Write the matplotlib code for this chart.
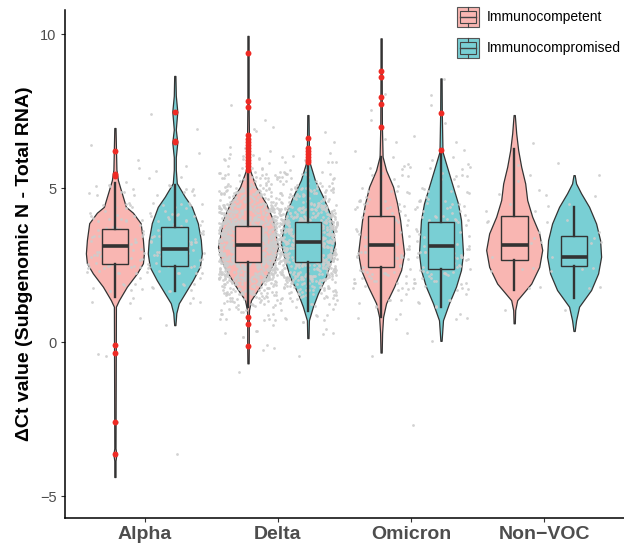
import numpy as np
import matplotlib.pyplot as plt
from matplotlib.patches import Rectangle

plt.rcParams['font.family'] = ['Liberation Sans', 'DejaVu Sans']

variants = ['Alpha', 'Delta', 'Omicron', 'Non\u2212VOC']
status = ['Immunocompetent', 'Immunocompromised']
fills = ['#F9B6B2', '#79CFD4']

# violin outlines, order: Alpha IC, Alpha ICp, Delta IC, Delta ICp, ...
# y values and half widths (px, 133 px per category)
violin_y = [
    [-4.38, -3.85, -3.64, -3.45, 1.15, 1.36, 1.8, 2.23, 2.56, 2.88, 3.31, 3.86, 4.2, 4.39, 4.93, 5.26, 5.6, 6.95],
    [0.55, 0.94, 1.26, 1.58, 2.01, 2.44, 2.88, 3.31, 3.86, 4.39, 4.72, 5.16, 5.6, 6.0, 6.48, 6.9, 7.48, 8.0, 8.64],
    [-0.69, -0.13, 0.58, 0.8, 1.04, 1.36, 1.8, 2.23, 2.66, 3.09, 3.42, 3.96, 4.5, 5.04, 5.58, 6.5, 7.7, 9.37, 9.94],
    [0.13, 0.71, 1.15, 1.58, 2.12, 2.66, 3.2, 3.64, 4.18, 4.72, 5.26, 5.8, 6.3, 7.37],
    [-0.34, 0.3, 0.82, 1.26, 1.8, 2.34, 2.88, 3.42, 3.96, 4.5, 5.04, 5.58, 6.02, 7.0, 8.7, 9.86],
    [0.04, 0.71, 1.26, 1.8, 2.34, 2.88, 3.42, 3.96, 4.5, 5.04, 5.58, 6.18, 7.45, 8.56],
    [0.61, 1.04, 1.36, 1.9, 2.44, 2.99, 3.53, 4.07, 4.61, 5.15, 5.69, 6.23, 6.78, 7.37],
    [0.36, 0.71, 1.15, 1.69, 2.23, 2.77, 3.31, 3.85, 4.39, 4.83, 5.15, 5.42],
]
violin_w = [
    [0, 0.3, 1.5, 0.3, 1, 4, 12, 22, 28, 29, 28, 25.7, 18, 11, 6, 3, 1.5, 0],
    [0, 1.5, 4, 10, 18, 25, 27, 26, 23, 17, 10, 2, 1, 1, 2.5, 1, 2.5, 1, 0],
    [0, 0.8, 0.8, 0.8, 1, 3, 12, 20, 27, 30, 28, 25, 18, 8, 2, 1, 0.6, 0.5, 0],
    [0, 1, 5, 10, 18, 23, 27, 25, 22, 15, 7, 2, 1, 0],
    [0, 1, 2, 5, 13, 20, 23, 21, 19, 16, 12, 5, 1.5, 0.8, 0.6, 0],
    [0, 2, 8, 15, 20, 22, 21, 20, 17, 12, 7, 1.5, 0.8, 0],
    [0, 1, 3, 17, 25, 28, 25, 18, 13, 11, 7, 4, 2, 0],
    [0, 2, 5, 17, 24, 27, 26, 22, 15, 7, 2, 0],
]

# boxplot stats
q1 = [2.53, 2.47, 2.59, 2.60, 2.45, 2.38, 2.65, 2.48]
med = [3.12, 3.02, 3.14, 3.26, 3.14, 3.12, 3.14, 2.77]
q3 = [3.66, 3.72, 3.77, 3.89, 4.09, 3.89, 4.10, 3.44]
whisk_lo = [1.47, 1.67, 1.13, 1.0, 0.82, 1.15, 1.69, 1.42]
whisk_hi = [5.17, 5.10, 5.53, 5.80, 6.02, 6.18, 6.26, 4.37]
outliers = [
    [6.19, 5.45, 5.39, -0.1, -0.35, -2.6, -3.64],
    [7.48, 6.48, 6.52],
    [9.37, 7.82, 7.64, 6.72, 6.6, 6.5, 6.4, 6.3, 6.2, 6.1, 6.0, 5.9, 5.8, 5.7, 5.6, 0.8, 0.58, -0.13],
    [6.61, 6.3, 6.2, 6.1, 6.0, 5.9, 5.84],
    [8.81, 8.59, 7.97, 7.74, 6.97],
    [7.45, 6.23],
    [],
    [],
]

# jittered raw points: counts per 0.5 bin from -1 to 9
bin_edges = np.arange(-1.0, 9.01, 0.5)
grey_counts = [
    [0, 1, 0, 1, 3, 8, 14, 22, 24, 20, 12, 7, 4, 2, 1, 0, 0, 0, 0, 0],
    [0, 0, 0, 1, 3, 8, 14, 20, 22, 20, 14, 8, 4, 2, 1, 1, 1, 0, 0, 0],
    [1, 3, 5, 12, 30, 80, 150, 210, 230, 190, 120, 70, 35, 15, 6, 3, 1, 1, 0, 0],
    [0, 1, 3, 8, 20, 50, 95, 140, 150, 130, 90, 50, 25, 10, 4, 1, 0, 0, 0, 0],
    [0, 1, 1, 3, 6, 12, 18, 22, 22, 20, 16, 12, 8, 5, 3, 1, 1, 1, 1, 0],
    [0, 0, 1, 3, 6, 12, 18, 22, 22, 20, 16, 12, 8, 5, 3, 1, 1, 1, 1, 1],
    [0, 0, 0, 0, 1, 2, 3, 4, 4, 3, 3, 2, 2, 1, 1, 0, 0, 0, 0, 0],
    [0, 0, 0, 0, 1, 2, 3, 4, 3, 3, 2, 2, 1, 1, 0, 0, 0, 0, 0, 0],
]
grey_stray = [[-2.6, -0.38], [-3.64], [], [], [], [-2.7], [], []]

fig = plt.figure(figsize=(6.24, 5.46), dpi=100)
ax = fig.add_axes([65 / 624, 28 / 546, 559 / 624, 508 / 546])

dodge = 0.225
px = 1 / 133
jit = 0.22
line_col = '#333333'


def spread(n, a, b):
    # quasi-random jitter fraction for the n-th point
    return (n * n * a + n * b) % 1


for i in range(len(variants)):
    for j in range(2):
        k = 2 * i + j
        xc = i + 1 + (2 * j - 1) * dodge
        y = np.array(violin_y[k])
        w = np.maximum(np.array(violin_w[k]), 0.6) * px
        ax.fill_betweenx(y, xc - w, xc + w, facecolor=fills[j],
                         edgecolor=line_col, lw=0.9, zorder=1)

        # jittered points
        ys, xs = [], []
        n = 0
        for b, c in enumerate(grey_counts[k]):
            for m in range(c):
                n += 1
                ys.append(bin_edges[b] + 0.5 * spread(n, 0.7071067, 0.3819660))
                xs.append(xc + jit * (2 * spread(n, 0.6180339, 0.7320508) - 1))
        for v in grey_stray[k]:
            n += 1
            ys.append(v)
            xs.append(xc + jit * (2 * spread(n, 0.6180339, 0.7320508) - 1))
        ax.scatter(xs, ys, s=4, color='#CDCDCD', alpha=0.9,
                   linewidths=0, zorder=2)

        # box
        bw = 13.3 * px
        ax.add_patch(Rectangle((xc - bw, q1[k]), 2 * bw, q3[k] - q1[k],
                               facecolor=fills[j], edgecolor=line_col,
                               lw=1.0, zorder=3))
        ax.plot([xc - bw, xc + bw], [med[k], med[k]], color=line_col,
                lw=2.6, solid_capstyle='butt', zorder=4)
        ax.plot([xc, xc], [q3[k], whisk_hi[k]], color=line_col, lw=1.7, zorder=3)
        ax.plot([xc, xc], [whisk_lo[k], q1[k]], color=line_col, lw=1.7, zorder=3)
        if outliers[k]:
            ax.scatter([xc] * len(outliers[k]), outliers[k], s=18,
                       color='#EE2A24', linewidths=0, zorder=5)

ax.set_xlim(0.4, 4.6)
ax.set_ylim(-5.71, 10.78)
ax.set_xticks([1, 2, 3, 4])
ax.set_xticklabels(variants, fontsize=14, fontweight='bold')
ax.set_yticks([-5, 0, 5, 10])
ax.tick_params(axis='both', direction='out', length=3, width=0.8,
               color=line_col, labelcolor='#4D4D4D')
ax.tick_params(axis='y', labelsize=10.5, pad=3)
ax.tick_params(axis='x', pad=2.5)
for s in ['top', 'right']:
    ax.spines[s].set_visible(False)
for s in ['left', 'bottom']:
    ax.spines[s].set_linewidth(1.1)
    ax.spines[s].set_color('black')

ax.set_ylabel('\u0394Ct value (Subgenomic N - Total RNA)', fontsize=14,
              fontweight='bold')
ax.yaxis.set_label_coords(-0.058, 0.5)


# legend drawn by hand in pixel coordinates
def fx(x):
    return x / 624


def fy(y):
    return 1 - y / 546


for j, yc in enumerate([17, 48]):
    fig.add_artist(Rectangle((fx(457), fy(yc + 10)), 22 / 624, 20 / 546,
                             transform=fig.transFigure, facecolor=fills[j],
                             edgecolor='#555555', lw=0.8))
    fig.add_artist(Rectangle((fx(460), fy(yc + 6)), 16 / 624, 12 / 546,
                             transform=fig.transFigure, facecolor=fills[j],
                             edgecolor='#444444', lw=0.8))
    fig.add_artist(plt.Line2D([fx(460), fx(476)], [fy(yc), fy(yc)],
                              transform=fig.transFigure, color='#444444', lw=1.0))
    fig.add_artist(plt.Line2D([fx(468), fx(468)], [fy(yc - 10), fy(yc - 6)],
                              transform=fig.transFigure, color='#444444', lw=0.8))
    fig.add_artist(plt.Line2D([fx(468), fx(468)], [fy(yc + 6), fy(yc + 10)],
                              transform=fig.transFigure, color='#444444', lw=0.8))
    fig.text(fx(487), fy(yc), status[j], fontsize=10, va='center', ha='left')

fig.savefig('out.png', dpi=100)
